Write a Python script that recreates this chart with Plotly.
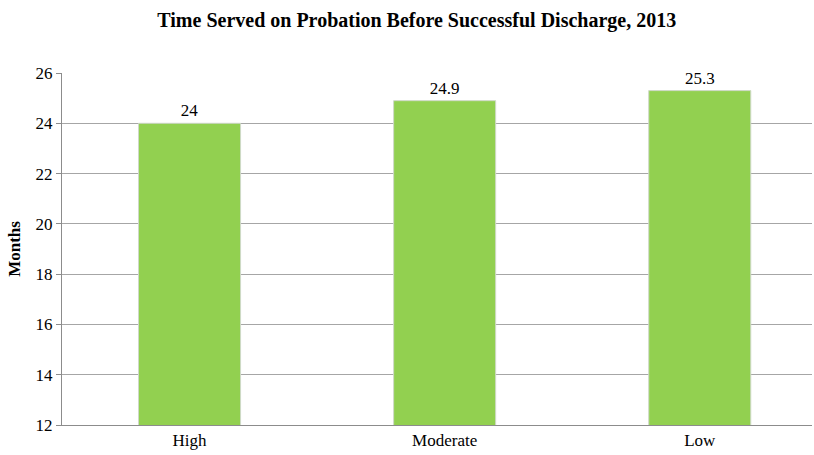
import plotly.graph_objects as go

categories = ["High", "Moderate", "Low"]
months = [24.0, 24.9, 25.3]
value_labels = ["24", "24.9", "25.3"]

FONT = "Liberation Serif"

fig = go.Figure(
    go.Bar(
        x=[0, 1, 2],
        y=months,
        width=0.4,
        text=value_labels,
        textposition="outside",
        textfont=dict(family=FONT, size=17, color="#000000"),
        cliponaxis=False,
        marker=dict(color="#92D050", line=dict(color="#cfd9c8", width=1)),
        hovertext=categories,
        hoverinfo="text+y",
    )
)

fig.update_layout(
    width=814,
    height=455,
    margin=dict(l=62, r=2, t=73, b=30),
    paper_bgcolor="white",
    plot_bgcolor="white",
    showlegend=False,
    title=dict(
        text="<b>Time Served on Probation Before Successful Discharge, 2013</b>",
        x=0.512,
        xref="container",
        xanchor="center",
        y=0.955,
        yanchor="middle",
        font=dict(family=FONT, size=20, color="#000000"),
    ),
    font=dict(family=FONT, size=17, color="#000000"),
)

fig.update_yaxes(
    range=[12, 26],
    dtick=2,
    tick0=12,
    showgrid=True,
    gridcolor="#a6a6a6",
    gridwidth=1,
    showline=True,
    linecolor="#8c8c8c",
    ticks="outside",
    ticklen=5,
    tickcolor="#8c8c8c",
    tickfont=dict(family=FONT, size=17),
    title=dict(text="<b>Months</b>", font=dict(family=FONT, size=17), standoff=10),
    zeroline=False,
)

# category spacing of ~255 px; the right end of the axis runs past the frame
fig.update_xaxes(
    range=[-0.5, 2.44],
    tickmode="array",
    tickvals=[0, 1, 2],
    ticktext=categories,
    showline=True,
    linecolor="#8c8c8c",
    ticks="",
    tickfont=dict(family=FONT, size=17),
)

fig.write_html("out.html")
